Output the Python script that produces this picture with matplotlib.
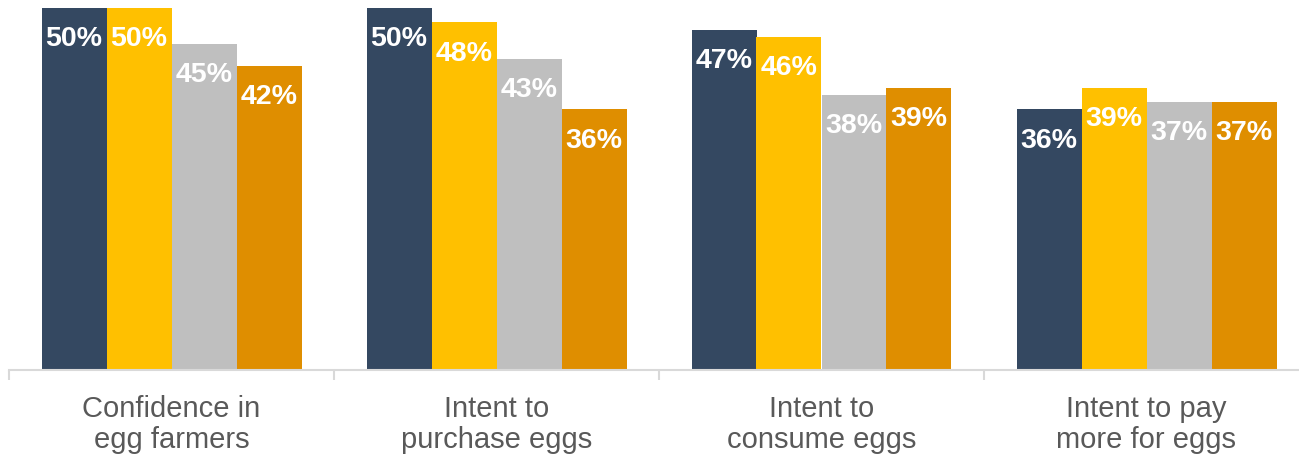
import numpy as np
import matplotlib.pyplot as plt

categories = ["Confidence in\negg farmers", "Intent to\npurchase eggs",
              "Intent to\nconsume eggs", "Intent to pay\nmore for eggs"]
series_1 = [50, 50, 47, 36]
series_2 = [50, 48, 46, 39]
series_3 = [45, 43, 38, 37]
series_4 = [42, 36, 39, 37]
colors = ["#344861", "#FFC000", "#BFBFBF", "#DF8E00"]

plt.rcParams['font.family'] = ['Liberation Sans', 'DejaVu Sans']

fig = plt.figure(figsize=(12.99, 4.54), dpi=100)
ax = fig.add_axes([9 / 1299, 84 / 454, 1300 / 1299, 362 / 454])

x = np.arange(len(categories))
width = 0.2
all_series = [series_1, series_2, series_3, series_4]
for i, vals in enumerate(all_series):
    pos = x + (i - 1.5) * width
    bars = ax.bar(pos, vals, width, color=colors[i], clip_on=False)
    for b, v in zip(bars, vals):
        ax.annotate("%d%%" % v, (b.get_x() + b.get_width() / 2, v),
                    xytext=(0, -22.5), textcoords="offset points",
                    ha="center", va="center", color="white",
                    fontsize=20.5, fontweight="bold")

ax.set_xlim(-0.5, 3.5)
ax.set_ylim(0, 50)
ax.set_yticks([])
for s in ["top", "right", "left"]:
    ax.spines[s].set_visible(False)
ax.spines["bottom"].set_color("#D9D9D9")
ax.spines["bottom"].set_linewidth(1.5)

ax.set_xticks(np.arange(-0.5, 4.0, 1.0))
ax.set_xticklabels([])
ax.tick_params(axis="x", which="major", length=7, width=1.5, color="#D9D9D9")
ax.set_xticks(x, minor=True)
ax.set_xticklabels(categories, minor=True, fontsize=21, color="#595959",
                   linespacing=1.15)
ax.tick_params(axis="x", which="minor", length=0, pad=18)

fig.savefig("out.png", dpi=100)
